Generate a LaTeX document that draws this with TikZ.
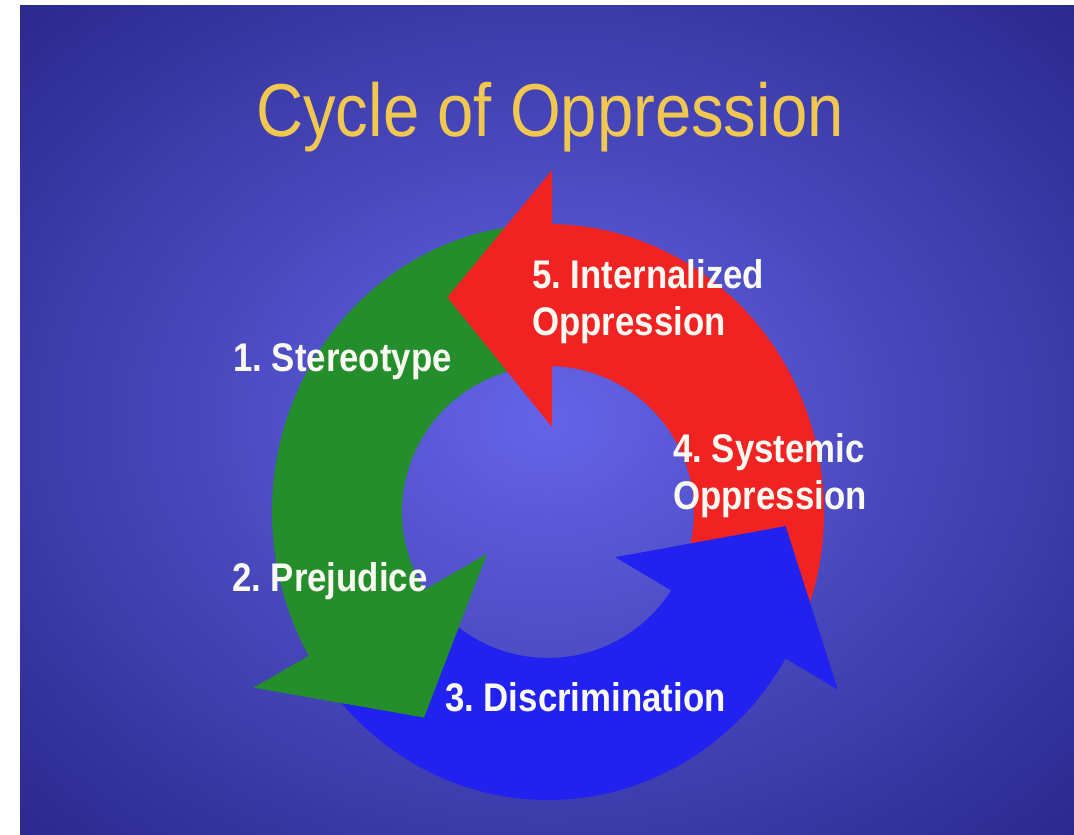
\documentclass[tikz,border=0pt]{standalone}
\usepackage{fontspec}
\setmainfont{Liberation Sans}[FakeStretch=0.87]
\usepackage{xcolor}
\usepackage{tikz}
\usetikzlibrary{positioning}
\frenchspacing

\definecolor{bgin}{RGB}{100,100,232}
\definecolor{bgout}{RGB}{40,40,140}
\definecolor{grn}{RGB}{36,142,44}
\definecolor{rd}{RGB}{240,34,34}
\definecolor{bl}{RGB}{34,34,240}
\definecolor{gold}{RGB}{240,200,80}
\definecolor{chalk}{RGB}{250,250,242}
\pgfdeclareradialshading{slidebg}{\pgfpoint{0bp}{0bp}}{color(0bp)=(bgin); color(36bp)=(bgout); color(50bp)=(bgout)}

\begin{document}
\begin{tikzpicture}[x=1pt,y=1pt,
		lbl/.style={text=chalk,font=\fontsize{40}{47}\selectfont\bfseries,inner sep=0pt,align=left}]
		\path[use as bounding box,fill=white] (0,0) rectangle (1074,835);
		\shade[shading=slidebg] (20,0) rectangle (1074,829);
		\coordinate (O) at (548,323);
		%
		\begin{scope}[shift={(O)}]
			% bands
			\fill[grn] (97:276pt and 288pt) arc[start angle=97,end angle=213,x radius=276pt,y radius=288pt]
				-- (213:146pt) arc[start angle=213,end angle=97,radius=146pt] -- cycle;
			\fill[bl] (220:276pt and 288pt) arc[start angle=220,end angle=329.5,x radius=276pt,y radius=288pt]
				-- (329.5:146pt) arc[start angle=329.5,end angle=220,radius=146pt] -- cycle;
			\fill[rd] (-25:276pt and 288pt) arc[start angle=-25,end angle=91,x radius=276pt,y radius=288pt]
				-- (91:146pt) arc[start angle=91,end angle=-25,radius=146pt] -- cycle;
			% heads
			\fill[grn] (210.8:343pt) -- (238.9:240pt) -- (214.5:74pt) -- cycle;
			\fill[bl] (328.5:340pt) -- (356.6:238pt) -- (326.1:81pt) -- cycle;
			\fill[rd] (89.3:342pt) -- (115.1:237pt) -- (87.3:85pt) -- cycle;
		\end{scope}
		%
		\node[font=\fontsize{75}{90}\selectfont,text=gold,anchor=base] (T) at (550,698) {Cycle of Oppression};
		\node[lbl,anchor=base west] (S1) at (233,463) {1. Stereotype};
		\node[lbl,anchor=base west] (S2) at (232,243) {2. Prejudice};
		\node[lbl,anchor=base west] (S3) at (445,123) {3. Discrimination};
		\node[lbl,anchor=south west] (S4) at (673,316.6) {4. Systemic\\Oppression};
		\node[lbl,anchor=south west] (S5) at (532,490.6) {5. Internalized\\Oppression};
	\end{tikzpicture}
\end{document}
